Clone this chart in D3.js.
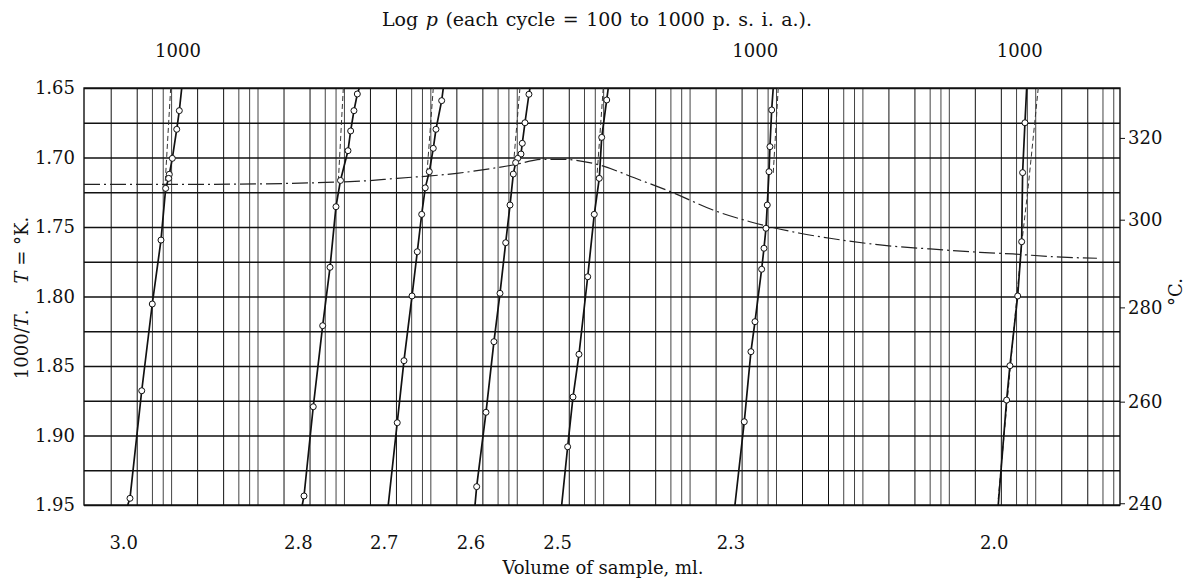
<!DOCTYPE html>
<html lang="en">
<head>
<meta charset="UTF-8">
<title>Isochores, log p vs 1000/T</title>
<style>
  body { margin: 0; background: #fff; }
  text { font-family: "DejaVu Serif", serif; fill: #111; }
</style>
</head>
<body>
<script src="https://d3js.org/d3.v7.min.js"></script>
<script>
// x = position on the log p scale, in cycles (each cycle = 100 to 1000 psia)
// y = 1000/T
const invTLabels = [1.65, 1.70, 1.75, 1.80, 1.85, 1.90, 1.95];
const invTGrid = [1.65, 1.675, 1.70, 1.725, 1.75, 1.775, 1.80, 1.825, 1.85, 1.875, 1.90, 1.925, 1.95];
const celsiusTicks = [240, 260, 280, 300, 320];
const cycleLines = [1, 2, 3, 4, 5];          // 100, 200, 300, 400, 500 in every cycle
const topLabelPos = [0.779, 7.459, 10.52];   // where "1000" is printed
const volumes = ["3.0", "2.8", "2.7", "2.6", "2.5", "2.3", "2.0"];

// isochores: first and last entries are where the line meets the frame
const iso30 = [[0.822, 1.65], [0.794, 1.6663], [0.764, 1.6797], [0.713, 1.7006], [0.678, 1.7121],
  [0.671, 1.7150], [0.636, 1.7222], [0.582, 1.7594], [0.481, 1.8054], [0.359, 1.8678],
  [0.223, 1.9452], [0.197, 1.95]];
const iso28 = [[2.877, 1.65], [2.854, 1.6543], [2.815, 1.6663], [2.777, 1.6809], [2.746, 1.6951],
  [2.659, 1.7165], [2.607, 1.7354], [2.538, 1.7790], [2.453, 1.8210], [2.344, 1.8793],
  [2.237, 1.9435], [2.217, 1.95]];
const iso27 = [[3.849, 1.65], [3.830, 1.6591], [3.764, 1.6797], [3.733, 1.6934], [3.687, 1.7102],
  [3.640, 1.7218], [3.599, 1.7409], [3.548, 1.7678], [3.487, 1.7996], [3.394, 1.8462],
  [3.316, 1.8908], [3.212, 1.95]];
const iso26 = [[4.852, 1.65], [4.840, 1.6545], [4.794, 1.6750], [4.763, 1.6898], [4.748, 1.6975],
  [4.710, 1.7006], [4.686, 1.7037], [4.659, 1.7119], [4.621, 1.7342], [4.571, 1.7613],
  [4.505, 1.7977], [4.435, 1.8325], [4.343, 1.8833], [4.235, 1.9368], [4.216, 1.95]];
const iso25 = [[5.758, 1.65], [5.740, 1.6586], [5.682, 1.6855], [5.654, 1.7150], [5.596, 1.7409],
  [5.520, 1.7858], [5.419, 1.8416], [5.350, 1.8723], [5.288, 1.9081], [5.219, 1.95]];
const iso23 = [[7.667, 1.65], [7.649, 1.6658], [7.629, 1.6922], [7.618, 1.7102], [7.598, 1.7342],
  [7.583, 1.7509], [7.560, 1.7653], [7.533, 1.7804], [7.456, 1.8181], [7.409, 1.8397],
  [7.332, 1.8901], [7.224, 1.95]];
const iso20 = [[10.600, 1.65], [10.580, 1.6750], [10.553, 1.7109], [10.542, 1.7606],
  [10.496, 1.7996], [10.406, 1.8498], [10.368, 1.8745], [10.271, 1.95]];

// thin dashed companions near the top of each isochore
const guides = [
  [[0.694, 1.65], [0.628, 1.7210]],
  [[2.692, 1.65], [2.634, 1.7174]],
  [[3.733, 1.65], [3.657, 1.7138]],
  [[4.736, 1.65], [4.659, 1.7065]],
  [[5.700, 1.65], [5.624, 1.7162]],
  [[7.725, 1.65], [7.667, 1.7114]],
  [[10.734, 1.65], [10.618, 1.7210], [10.545, 1.7606], [10.268, 1.9475]]
];

// dash-dot curve across the isochores
const envelope = [[-0.309, 1.7193], [1.033, 1.7193], [2.769, 1.7174], [3.313, 1.7150],
  [4.004, 1.7114], [4.655, 1.7054], [5.006, 1.7013], [5.219, 1.7013], [5.581, 1.7042],
  [6.125, 1.7162], [6.507, 1.7253], [6.970, 1.7378], [7.398, 1.7462], [7.976, 1.7545],
  [8.323, 1.7581], [8.902, 1.7629], [9.481, 1.7658], [10.059, 1.7682], [10.441, 1.7694],
  [10.904, 1.7714], [11.413, 1.7725]];

const isochores = [iso30, iso28, iso27, iso26, iso25, iso23, iso20];

const width = 1185, height = 579;
const plotL = 84, plotR = 1120, plotT = 88, plotB = 505;

const svg = d3.select("body").append("svg")
    .attr("width", width)
    .attr("height", height);

const x = d3.scaleLinear().domain([-0.309, 11.68]).range([plotL, plotR]);
const y = d3.scaleLinear().domain([1.65, 1.95]).range([plotT, plotB]);

// vertical log grid
const gridC = [];
d3.range(-1, 12).forEach(k => {
    cycleLines.forEach(m => {
        const c = k + Math.log10(m);
        if (c > x.domain()[0] + 0.01 && c < x.domain()[1] - 0.01) gridC.push(c);
    });
});

svg.append("g")
    .attr("class", "vgrid")
    .attr("transform", `translate(0,${plotT})`)
    .call(d3.axisTop(x).tickValues(gridC).tickSize(-(plotB - plotT)).tickFormat(""))
    .call(g => g.select(".domain").remove())
    .call(g => g.selectAll("line")
        .attr("stroke", d => {
            const f = d - Math.floor(d + 1e-6);
            return f < 0.35 ? "#111" : "#444";
        })
        .attr("stroke-width", 1));

// horizontal grid
svg.append("g")
    .attr("transform", `translate(${plotL},0)`)
    .call(d3.axisLeft(y).tickValues(invTGrid).tickSize(-(plotR - plotL)).tickFormat(""))
    .call(g => g.select(".domain").remove())
    .call(g => g.selectAll("line").attr("stroke", "#111").attr("stroke-width", 1.3));

// frame
svg.append("rect")
    .attr("x", plotL).attr("y", plotT)
    .attr("width", plotR - plotL).attr("height", plotB - plotT)
    .attr("fill", "none").attr("stroke", "#111").attr("stroke-width", 1.4);

// left axis labels
svg.append("g")
    .attr("transform", `translate(${plotL},0)`)
    .call(d3.axisLeft(y).tickValues(invTLabels).tickSize(0).tickPadding(9).tickFormat(d3.format(".2f")))
    .call(g => g.select(".domain").remove())
    .call(g => g.selectAll("text").style("font-size", "18px").attr("font-family", null));

// right axis, degrees C
svg.append("g")
    .attr("transform", `translate(${plotR},0)`)
    .call(d3.axisRight(y)
        .tickValues(celsiusTicks.map(t => 1000 / (t + 273.15)))
        .tickFormat((d, i) => celsiusTicks[i])
        .tickSize(5).tickPadding(3))
    .call(g => g.select(".domain").remove())
    .call(g => g.selectAll("line").attr("stroke", "#111"))
    .call(g => g.selectAll("text").style("font-size", "18px").attr("font-family", null));

// dash-dot curve
const line = d3.line().x(d => x(d[0])).y(d => y(d[1]));
const smooth = d3.line().x(d => x(d[0])).y(d => y(d[1])).curve(d3.curveMonotoneX);

svg.append("path")
    .datum(envelope)
    .attr("fill", "none")
    .attr("stroke", "#222")
    .attr("stroke-width", 1.2)
    .attr("stroke-dasharray", "16,4,2,4")
    .attr("d", smooth);

// dashed companions
svg.selectAll(".guide")
    .data(guides)
    .join("path")
    .attr("class", "guide")
    .attr("fill", "none")
    .attr("stroke", "#333")
    .attr("stroke-width", 1)
    .attr("stroke-dasharray", "5,3")
    .attr("d", line);

// isochores
svg.selectAll(".iso")
    .data(isochores)
    .join("path")
    .attr("class", "iso")
    .attr("fill", "none")
    .attr("stroke", "#111")
    .attr("stroke-width", 1.7)
    .attr("d", line);

svg.selectAll(".pts")
    .data(isochores)
    .join("g")
    .attr("class", "pts")
    .selectAll("circle")
    .data(d => d.slice(1, -1))
    .join("circle")
    .attr("cx", d => x(d[0]))
    .attr("cy", d => y(d[1]))
    .attr("r", 3)
    .attr("fill", "#fff")
    .attr("stroke", "#111")
    .attr("stroke-width", 1);

// volume labels under each isochore
svg.selectAll(".vol")
    .data(isochores)
    .join("text")
    .attr("class", "vol")
    .attr("x", d => x(d[d.length - 1][0]) - 4)
    .attr("y", plotB + 44)
    .attr("text-anchor", "middle")
    .style("font-size", "18px")
    .text((d, i) => volumes[i]);

// "1000" labels on top
svg.selectAll(".top1000")
    .data(topLabelPos)
    .join("text")
    .attr("class", "top1000")
    .attr("x", d => x(d))
    .attr("y", 57)
    .attr("text-anchor", "middle")
    .style("font-size", "18px")
    .text("1000");

// titles
const title = svg.append("text")
    .attr("x", 597)
    .attr("y", 26)
    .attr("text-anchor", "middle")
    .style("font-size", "19px")
    .style("word-spacing", "1.5px");
title.append("tspan").text("Log ");
title.append("tspan").attr("font-style", "italic").text("p");
title.append("tspan").text(" (each cycle = 100 to 1000 p. s. i. a.).");

svg.append("text")
    .attr("x", 603)
    .attr("y", 574)
    .attr("text-anchor", "middle")
    .style("font-size", "18px")
    .text("Volume of sample, ml.");

const ylab = svg.append("text")
    .attr("transform", "translate(28,298) rotate(-90)")
    .attr("text-anchor", "middle")
    .style("font-size", "18px");
ylab.append("tspan").text("1000/");
ylab.append("tspan").attr("font-style", "italic").text("T");
ylab.append("tspan").text(".");
ylab.append("tspan").attr("font-style", "italic").attr("dx", 26).text("T");
ylab.append("tspan").text(" = °K.");

svg.append("text")
    .attr("transform", "translate(1182,292) rotate(-90)")
    .attr("text-anchor", "middle")
    .style("font-size", "18px")
    .text("°C.");
</script>
</body>
</html>
